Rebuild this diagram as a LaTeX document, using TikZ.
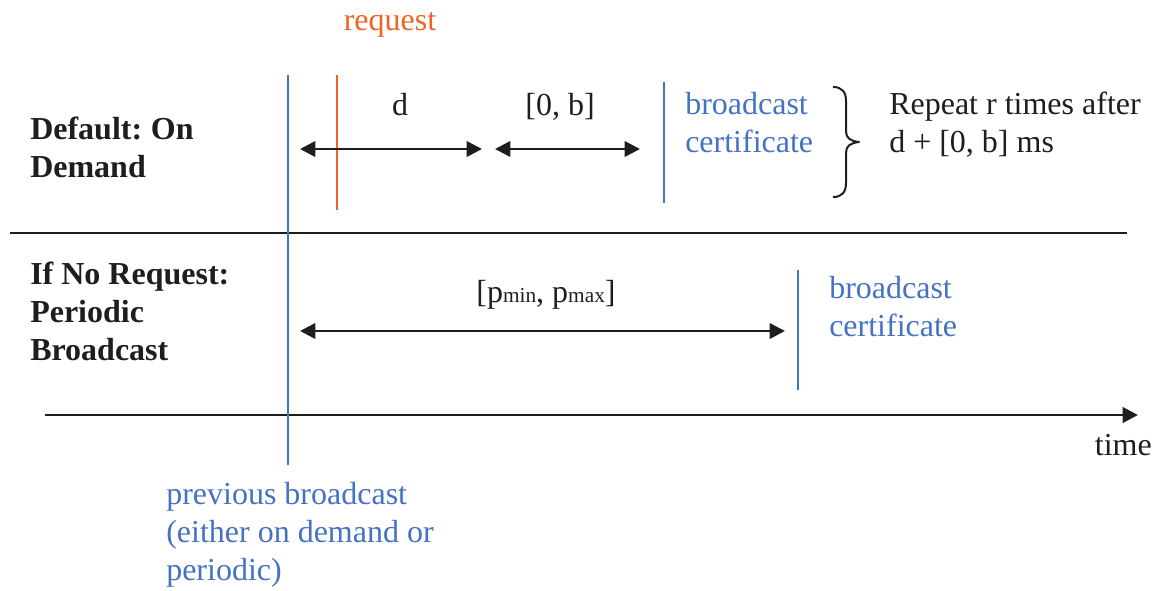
\documentclass[tikz,border=0pt]{standalone}
\usepackage{fontspec}
\setmainfont{Liberation Serif}
\usetikzlibrary{arrows.meta}
\definecolor{bblue}{RGB}{68,114,196}
\definecolor{rorange}{RGB}{240,100,35}
\definecolor{ink}{RGB}{30,30,30}
\begin{document}
\begin{tikzpicture}[x=0.75pt,y=-0.75pt,
  txt/.style={inner sep=0pt, anchor=base west, font=\fontsize{24}{28.5}\selectfont, align=left, text=ink},
  btxt/.style={txt, font=\fontsize{24}{28.5}\selectfont\bfseries},
  ctxt/.style={txt, anchor=base},
  span/.style={{Triangle[length=11.5pt,width=11.5pt]}-{Triangle[length=11.5pt,width=11.5pt]}, line width=2pt, draw=ink},
  bline/.style={draw=bblue, line width=1.3pt},
  oline/.style={draw=rorange, line width=1.3pt}]
\useasboundingbox (0,0) rectangle (1165,590);

% row labels (base anchor = baseline of last line)
\node[btxt] (lab1) at (30,177) {Default:\hspace{-1.5pt} On\\Demand};
\node[btxt] (lab2) at (30,360) {If No Request:\\Periodic\\Broadcast};

% separator
\coordinate (sepL) at (10,233);
\coordinate (sepR) at (1127,233);
\draw[ink, line width=1.4pt] (sepL) -- (sepR);

% time axis
\coordinate (axL) at (45,415);
\coordinate (ax0) at (288,415);
\coordinate (axR) at (1138,415);
\draw[ink, line width=0.8pt] (axL) -- (ax0);
\draw[ink, line width=2.2pt, -{Triangle[length=11.5pt,width=11.5pt]}] (ax0) -- (axR);
\node[txt, anchor=base east] (time) at (1152,455) {time};

% previous broadcast
\coordinate (pbT) at (288,75);
\coordinate (pbB) at (288,465);
\draw[bline] (pbT) -- (pbB);
\node[txt, text=bblue] (prev) at (166,580) {previous broadcast\\(either on demand or\\periodic)};

% request
\coordinate (rqT) at (337,75);
\coordinate (rqB) at (337,210);
\draw[oline] (rqT) -- (rqB);
\node[ctxt, text=rorange] (req) at (390,30) {request};

% d and [0,b]
\coordinate (dA) at (300,149);
\coordinate (dB) at (482,149);
\coordinate (bA) at (495,149);
\coordinate (bB) at (640,149);
\draw[span] (dA) -- (dB);
\draw[span] (bA) -- (bB);
\node[ctxt] (dl) at (400,115) {d};
\node[ctxt] (bl) at (560,115) {[0, b]};

% broadcast certificate (on demand)
\coordinate (bc1T) at (664,82);
\coordinate (bc1B) at (664,203);
\draw[bline] (bc1T) -- (bc1B);
\node[txt, text=bblue] (bc1) at (685,152) {broadcast\\certificate};

% brace
\draw[ink, line width=1.5pt, line join=round]
  (833,87) .. controls (842,87) and (846,92) .. (846,101) -- (846,131)
  .. controls (846,138) and (850,141) .. (859,142)
  .. controls (850,143) and (846,146) .. (846,153) -- (846,183)
  .. controls (846,192) and (842,197) .. (833,197);
\node[txt] (rep) at (889,152) {Repeat r times after\\d + [0, b] ms};

% periodic
\coordinate (pA) at (300,331);
\coordinate (pB) at (785,331);
\draw[span] (pA) -- (pB);
\node[ctxt] (pl) at (546,302) {[p{\fontsize{16}{16}\selectfont min}, p{\fontsize{16}{16}\selectfont max}]};
\coordinate (bc2T) at (798,270);
\coordinate (bc2B) at (798,390);
\draw[bline] (bc2T) -- (bc2B);
\node[txt, text=bblue] (bc2) at (829,336) {broadcast\\certificate};
\end{tikzpicture}
\end{document}
